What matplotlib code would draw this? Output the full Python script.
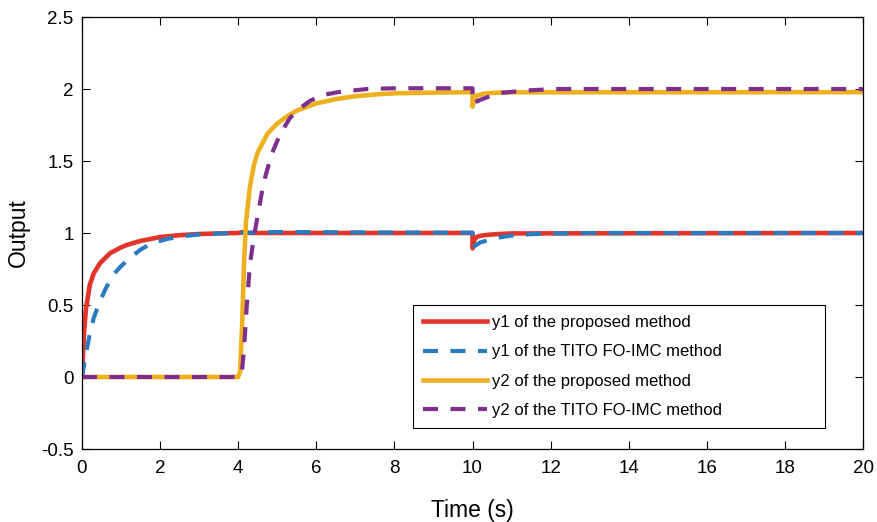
import matplotlib.pyplot as plt

plt.rcParams['font.family'] = ['Liberation Sans', 'DejaVu Sans']

# y1 of the proposed method
t_y1_prop = [0, 0.05, 0.1, 0.2, 0.3, 0.46, 0.72, 1.0, 1.15, 1.5, 2.0, 2.5, 3.0, 3.5, 4.0,
             4.1, 4.3, 10.0, 10.001, 10.05, 10.12, 10.3, 10.6, 11.0, 20.0]
y1_prop = [0, 0.30, 0.47, 0.64, 0.72, 0.79, 0.86, 0.90, 0.917, 0.945, 0.972, 0.985, 0.993, 0.997, 1.0,
           1.006, 1.0, 1.0, 0.893, 0.955, 0.975, 0.985, 0.992, 0.997, 1.0]

# y1 of the TITO FO-IMC method
t_y1_tito = [0, 0.1, 0.2, 0.3, 0.45, 0.6, 0.8, 1.0, 1.2, 1.5, 1.8, 2.2, 2.6, 3.0, 3.5, 4.0,
             5.0, 6.0, 8.0, 10.0, 10.001, 10.2, 10.4, 10.7, 11.0, 11.5, 12.0, 13.0, 20.0]
y1_tito = [0, 0.16, 0.30, 0.41, 0.52, 0.61, 0.71, 0.77, 0.82, 0.885, 0.93, 0.96, 0.978, 0.99, 0.997, 1.0,
           1.007, 1.006, 1.003, 1.002, 0.90, 0.935, 0.95, 0.97, 0.982, 0.992, 0.997, 1.0, 1.0]

# y2 of the proposed method
t_y2_prop = [0, 4.0, 4.05, 4.1, 4.15, 4.2, 4.3, 4.4, 4.5, 4.75, 5.0, 5.25, 5.5, 6.0, 6.5, 7.0,
             7.5, 8.0, 9.0, 10.0, 10.001, 10.05, 10.12, 10.3, 10.6, 11.0, 20.0]
y2_prop = [0, 0, 0.04, 0.35, 0.80, 1.08, 1.32, 1.47, 1.56, 1.69, 1.76, 1.81, 1.85, 1.90, 1.93, 1.95,
           1.962, 1.97, 1.975, 1.978, 1.877, 1.93, 1.955, 1.968, 1.974, 1.977, 1.978]

# y2 of the TITO FO-IMC method
t_y2_tito = [0, 4.0, 4.05, 4.1, 4.15, 4.22, 4.3, 4.4, 4.5, 4.65, 4.86, 5.08, 5.33, 5.6, 5.85, 6.2,
             6.6, 7.3, 8.0, 10.0, 10.001, 10.2, 10.5, 10.8, 11.4, 12.1, 20.0]
y2_tito = [0, 0, 0.01, 0.05, 0.2, 0.5, 0.78, 0.97, 1.12, 1.35, 1.55, 1.69, 1.80, 1.87, 1.92, 1.96,
           1.98, 2.0, 2.005, 2.005, 1.90, 1.925, 1.955, 1.975, 1.99, 2.0, 2.0]

labels = ['y1 of the proposed method', 'y1 of the TITO FO-IMC method',
          'y2 of the proposed method', 'y2 of the TITO FO-IMC method']

fig = plt.figure(figsize=(8.78, 5.22), dpi=100)
ax = fig.add_axes([82 / 878, 1 - 449 / 522, 781 / 878, 432 / 522])

ax.plot(t_y1_prop, y1_prop, color='#e3342a', lw=3.3, label=labels[0])
ax.plot(t_y1_tito, y1_tito, color='#2a7bc0', lw=3.0, dashes=(3.6, 3.0), label=labels[1])
ax.plot(t_y2_prop, y2_prop, color='#edb120', lw=3.3, label=labels[2])
ax.plot(t_y2_tito, y2_tito, color='#7e2f8e', lw=3.0, dashes=(3.6, 3.0), label=labels[3])

ax.set_xlim(0, 20)
ax.set_ylim(-0.5, 2.5)
ax.set_xticks(range(0, 21, 2))
ax.set_yticks([-0.5, 0, 0.5, 1, 1.5, 2, 2.5])
ax.set_yticklabels(['-0.5', '0', '0.5', '1', '1.5', '2', '2.5'])
ax.tick_params(direction='in', top=True, right=True, length=6, width=0.8, labelsize=13.5)
ax.tick_params(axis='x', pad=8)
ax.tick_params(axis='y', pad=6)
for s in ax.spines.values():
    s.set_linewidth(0.9)

ax.set_xlabel('Time (s)', fontsize=16.5, labelpad=16)
ax.set_ylabel('Output', fontsize=16.5, labelpad=8)

leg = ax.legend(loc='lower left', bbox_to_anchor=(0.424, 0.0486, 0.527, 0.285), mode='expand',
                borderaxespad=0, borderpad=0.62, fontsize=12, handlelength=3.8,
                handletextpad=0.3, labelspacing=0.85,
                fancybox=False, framealpha=1, edgecolor='black')
leg.get_frame().set_linewidth(0.8)

plt.savefig('out.png', dpi=100)
